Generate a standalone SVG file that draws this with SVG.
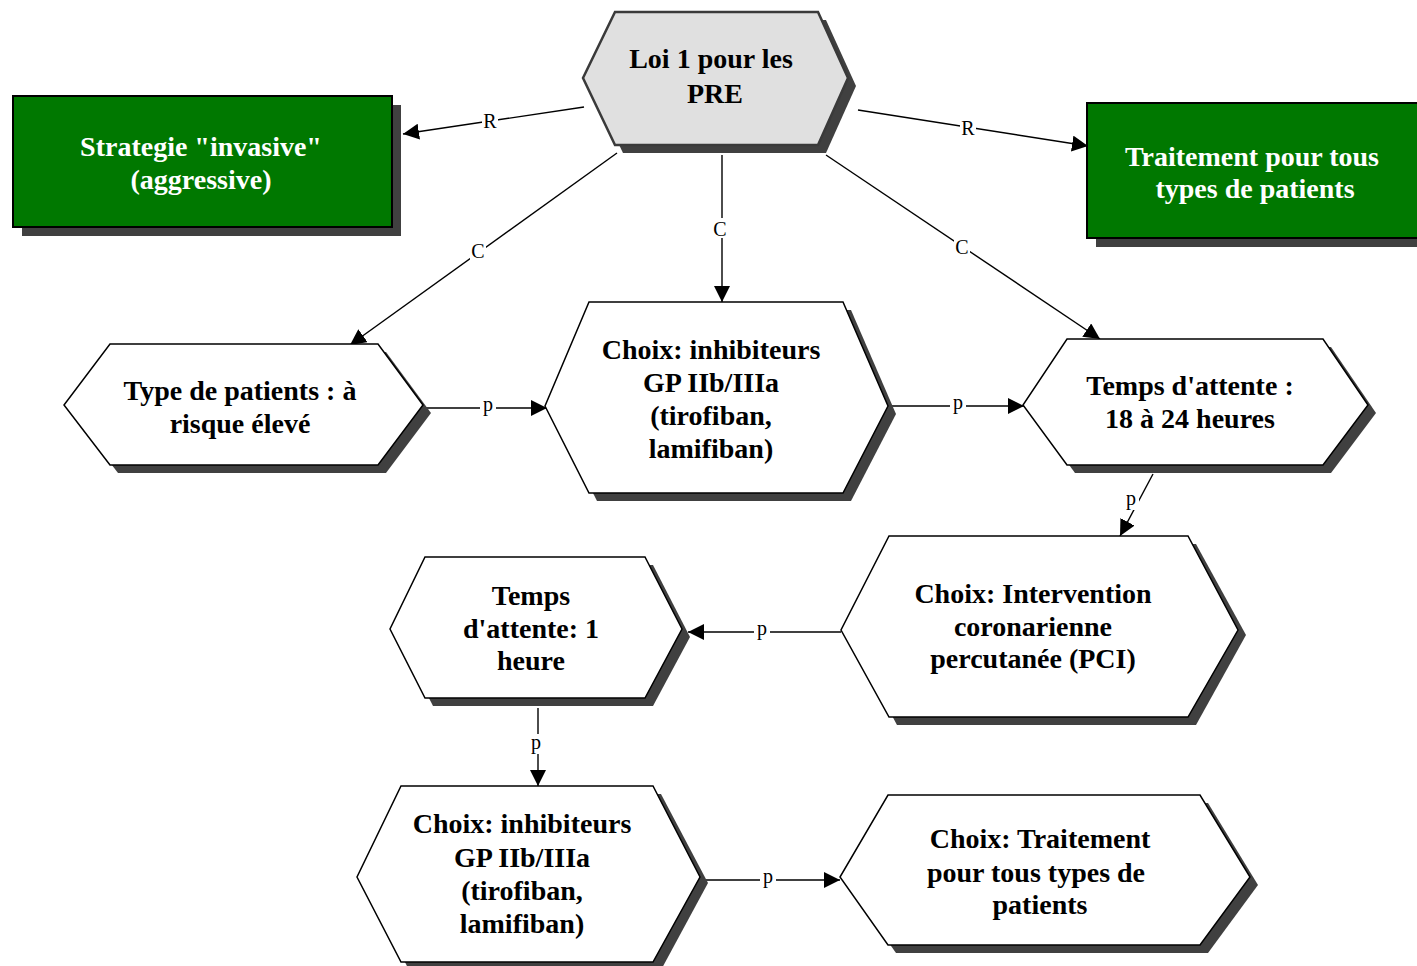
<svg xmlns="http://www.w3.org/2000/svg" width="1417" height="966" viewBox="0 0 1417 966">
<defs>
<style>
.sh{fill:#404040;stroke:none}
.hx{fill:#ffffff;stroke:#000;stroke-width:1.5}
.top{fill:#e0e0e0;stroke:#3a3a3a;stroke-width:2.5}
.gr{fill:#007800;stroke:#000;stroke-width:2}
.t{font-family:"Liberation Serif","Times New Roman",serif;font-weight:bold;font-size:28px;fill:#000;text-anchor:middle}
.tw{font-family:"Liberation Serif","Times New Roman",serif;font-weight:bold;font-size:28px;fill:#fff;text-anchor:middle}
.e{fill:none;stroke:#000;stroke-width:1.4}
.lb{fill:#fff;stroke:none}
.l{font-family:"Liberation Serif","Times New Roman",serif;font-size:20px;fill:#000;text-anchor:middle}
</style>
<marker id="a" viewBox="0 0 16 16" refX="16" refY="8" markerWidth="16" markerHeight="16" markerUnits="userSpaceOnUse" orient="auto">
<path d="M0,0 L16,8 L0,16 Z" fill="#000"/>
</marker>
</defs>

<g id="connectors">
<line class="e" x1="584" y1="107" x2="403" y2="134" marker-end="url(#a)"/>
<rect class="lb" x="482" y="110" width="16" height="20"/><text class="l" x="490" y="128">R</text>
<line class="e" x1="858" y1="110" x2="1088" y2="146" marker-end="url(#a)"/>
<rect class="lb" x="960" y="117" width="16" height="20"/><text class="l" x="968" y="135">R</text>
<line class="e" x1="617" y1="153" x2="350" y2="345" marker-end="url(#a)"/>
<rect class="lb" x="470" y="240" width="16" height="20"/><text class="l" x="478" y="258">C</text>
<line class="e" x1="722" y1="155" x2="722" y2="302" marker-end="url(#a)"/>
<rect class="lb" x="712" y="218" width="16" height="20"/><text class="l" x="720" y="236">C</text>
<line class="e" x1="826" y1="155" x2="1100" y2="339" marker-end="url(#a)"/>
<rect class="lb" x="954" y="236" width="16" height="20"/><text class="l" x="962" y="254">C</text>
<line class="e" x1="425" y1="408" x2="547" y2="408" marker-end="url(#a)"/>
<rect class="lb" x="480" y="396" width="16" height="20"/><text class="l" x="488" y="411">p</text>
<line class="e" x1="888" y1="406" x2="1024" y2="406" marker-end="url(#a)"/>
<rect class="lb" x="950" y="394" width="16" height="20"/><text class="l" x="958" y="409">p</text>
<line class="e" x1="1153" y1="474" x2="1120" y2="536" marker-end="url(#a)"/>
<rect class="lb" x="1123" y="490" width="16" height="20"/><text class="l" x="1131" y="505">p</text>
<line class="e" x1="841" y1="632" x2="688" y2="632" marker-end="url(#a)"/>
<rect class="lb" x="754" y="620" width="16" height="20"/><text class="l" x="762" y="635">p</text>
<line class="e" x1="538" y1="708" x2="538" y2="786" marker-end="url(#a)"/>
<rect class="lb" x="528" y="734" width="16" height="20"/><text class="l" x="536" y="749">p</text>
<line class="e" x1="700" y1="880" x2="840" y2="880" marker-end="url(#a)"/>
<rect class="lb" x="760" y="868" width="16" height="20"/><text class="l" x="768" y="883">p</text>
</g>

<g id="n-loi">
<polygon class="sh" points="623,20 826,20 856,86 826,153 623,153 591,86"/>
<polygon class="top" points="615,12 818,12 848,78 818,145 615,145 583,78"/>
<text class="t" x="711" y="68">Loi 1 pour les</text>
<text class="t" x="715" y="103">PRE</text>
</g>

<g id="n-strategie">
<rect class="sh" x="22" y="105" width="379" height="131"/>
<rect class="gr" x="13" y="96" width="379" height="131"/>
<text class="tw" x="201" y="156">Strategie "invasive"</text>
<text class="tw" x="201" y="189">(aggressive)</text>
</g>

<g id="n-traitement">
<rect class="sh" x="1096" y="112" width="340" height="135"/>
<rect class="gr" x="1087" y="103" width="340" height="135"/>
<text class="tw" x="1252" y="166">Traitement pour tous</text>
<text class="tw" x="1255" y="198">types de patients</text>
</g>

<g id="n-type">
<polygon class="sh" points="118,352 386,352 431,413 386,473 118,473 72,413"/>
<polygon class="hx" points="110,344 378,344 423,405 378,465 110,465 64,405"/>
<text class="t" x="240" y="400">Type de patients : à</text>
<text class="t" x="240" y="433">risque élevé</text>
</g>

<g id="n-choix1">
<polygon class="sh" points="597,310 851,310 896,414 851,501 597,501 553,414"/>
<polygon class="hx" points="589,302 843,302 888,406 843,493 589,493 545,406"/>
<text class="t" x="711" y="359">Choix: inhibiteurs</text>
<text class="t" x="711" y="392">GP IIb/IIIa</text>
<text class="t" x="711" y="425">(tirofiban,</text>
<text class="t" x="711" y="458">lamifiban)</text>
</g>

<g id="n-temps1824">
<polygon class="sh" points="1075,347 1331,347 1376,413 1331,473 1075,473 1031,413"/>
<polygon class="hx" points="1067,339 1323,339 1368,405 1323,465 1067,465 1023,405"/>
<text class="t" x="1190" y="395">Temps d'attente :</text>
<text class="t" x="1190" y="428">18 à 24 heures</text>
</g>

<g id="n-pci">
<polygon class="sh" points="897,544 1196,544 1246,635 1196,725 897,725 849,635"/>
<polygon class="hx" points="889,536 1188,536 1238,630 1188,717 889,717 841,630"/>
<text class="t" x="1033" y="603">Choix: Intervention</text>
<text class="t" x="1033" y="636">coronarienne</text>
<text class="t" x="1033" y="668">percutanée (PCI)</text>
</g>

<g id="n-temps1h">
<polygon class="sh" points="433,565 653,565 690,637 653,706 433,706 398,637"/>
<polygon class="hx" points="425,557 645,557 682,629 645,698 425,698 390,629"/>
<text class="t" x="531" y="605">Temps</text>
<text class="t" x="531" y="638">d'attente: 1</text>
<text class="t" x="531" y="670">heure</text>
</g>

<g id="n-choix2">
<polygon class="sh" points="409,794 661,794 708,883 661,970 409,970 365,883"/>
<polygon class="hx" points="401,786 653,786 700,877 653,962 401,962 357,877"/>
<text class="t" x="522" y="833">Choix: inhibiteurs</text>
<text class="t" x="522" y="867">GP IIb/IIIa</text>
<text class="t" x="522" y="900">(tirofiban,</text>
<text class="t" x="522" y="933">lamifiban)</text>
</g>

<g id="n-choixtrait">
<polygon class="sh" points="896,803 1208,803 1258,885 1208,953 896,953 848,885"/>
<polygon class="hx" points="888,795 1200,795 1250,877 1200,945 888,945 840,877"/>
<text class="t" x="1040" y="848">Choix: Traitement</text>
<text class="t" x="1036" y="882">pour tous types de</text>
<text class="t" x="1040" y="914">patients</text>
</g>
</svg>
